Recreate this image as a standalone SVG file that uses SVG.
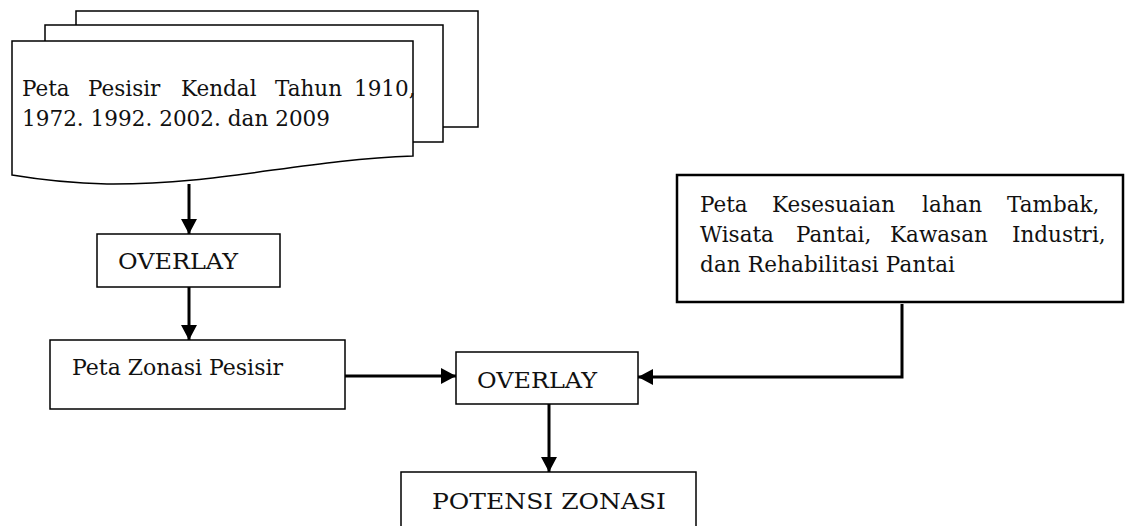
<svg xmlns="http://www.w3.org/2000/svg" width="1128" height="526" viewBox="0 0 1128 526">
<style>
.box{fill:#fff;stroke:#000;stroke-width:1.5}
.thick{fill:#fff;stroke:#000;stroke-width:2.5}
.t{font-family:"DejaVu Serif","Liberation Serif",serif;font-size:21.5px;fill:#111}
.c{fill:none;stroke:#000;stroke-width:3}
</style>
<defs>
<marker id="ah" markerUnits="userSpaceOnUse" markerWidth="16" markerHeight="16" refX="15" refY="8" orient="auto">
<path d="M0,0 L15,8 L0,16 Z" fill="#000"/>
</marker>
</defs>
<rect width="1128" height="526" fill="#fff"/>
<g id="doc">
<rect class="box" x="76" y="11" width="402" height="116"/>
<rect class="box" x="45" y="25" width="398" height="117"/>
<path class="box" d="M12,41 H413 V156 C300,160 220,185 107,184 Q60,183 12,175 Z"/>
<text class="t" y="96"><tspan x="22">Peta</tspan><tspan x="88">Pesisir</tspan><tspan x="181">Kendal</tspan><tspan x="275">Tahun</tspan><tspan x="354">1910,</tspan></text>
<text class="t" x="22" y="126" textLength="308" lengthAdjust="spacing">1972. 1992. 2002. dan 2009</text>
</g>
<g id="overlay1">
<rect class="box" x="97" y="234" width="183" height="53"/>
<text class="t" x="118" y="269" textLength="120" lengthAdjust="spacingAndGlyphs">OVERLAY</text>
</g>
<g id="zonasi">
<rect class="box" x="50" y="340" width="295" height="69"/>
<text class="t" x="72" y="375" textLength="211" lengthAdjust="spacingAndGlyphs">Peta Zonasi Pesisir</text>
</g>
<g id="overlay2">
<rect class="box" x="456" y="352" width="182" height="52"/>
<text class="t" x="477" y="388" textLength="120" lengthAdjust="spacingAndGlyphs">OVERLAY</text>
</g>
<g id="potensi">
<rect class="box" x="401" y="472" width="295" height="70"/>
<text class="t" x="432" y="509" textLength="234" lengthAdjust="spacingAndGlyphs">POTENSI ZONASI</text>
</g>
<g id="kesesuaian">
<rect class="thick" x="677" y="175" width="446" height="127"/>
<text class="t" y="212"><tspan x="700">Peta</tspan><tspan x="772">Kesesuaian</tspan><tspan x="922">lahan</tspan><tspan x="1007">Tambak,</tspan></text>
<text class="t" y="242"><tspan x="700">Wisata</tspan><tspan x="796">Pantai,</tspan><tspan x="890">Kawasan</tspan><tspan x="1012">Industri,</tspan></text>
<text class="t" x="700" y="272" textLength="255" lengthAdjust="spacing">dan Rehabilitasi Pantai</text>
</g>
<g id="connectors">
<path class="c" d="M189,184 V234" marker-end="url(#ah)"/>
<path class="c" d="M189,287 V340" marker-end="url(#ah)"/>
<path class="c" d="M345,376 H456" marker-end="url(#ah)"/>
<path class="c" d="M902,304 V377 H638" marker-end="url(#ah)"/>
<path class="c" d="M549,404 V472" marker-end="url(#ah)"/>
</g>
</svg>
